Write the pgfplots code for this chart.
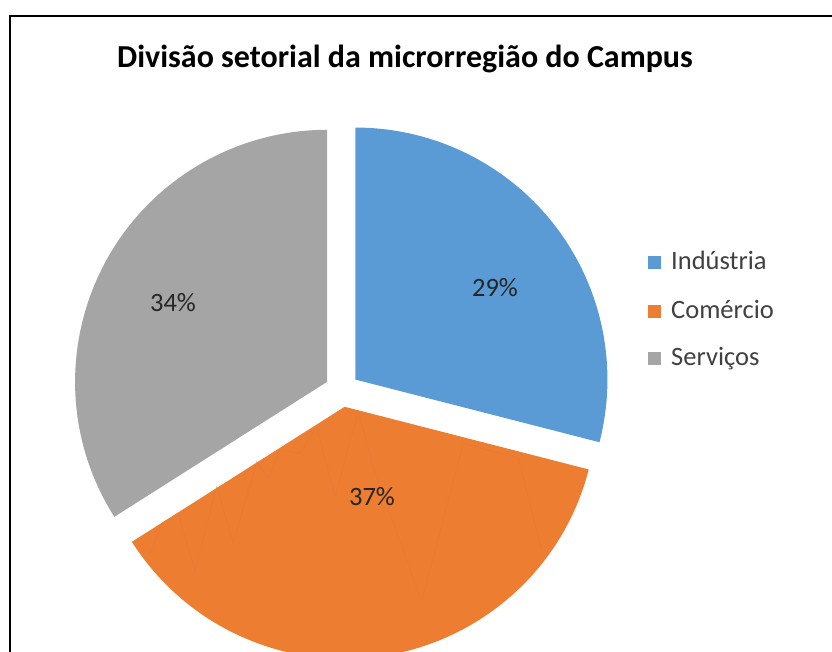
\documentclass[border=0pt]{standalone}
\usepackage{pgfplots}
\pgfplotsset{compat=1.18}
\usepackage{pgfplotstable}
\usepackage{fontspec}
\setmainfont{Carlito}
\definecolor{ind}{HTML}{5B9BD5}
\definecolor{com}{HTML}{ED7D31}
\definecolor{ser}{HTML}{A5A5A5}
\definecolor{zig}{HTML}{E27A36}
\definecolor{txt}{HTML}{262626}
\definecolor{legtxt}{HTML}{404040}

% slice data: value (%), label position (x, baseline y), legend baseline y
\pgfplotstableread{
label      value labx laby legy
Indústria  29    495  355  382
Comércio   37    372  146  333
Serviços   34    173  340  286
}\piedata

\pgfplotstablegetelem{0}{value}\of\piedata \edef\vA{\pgfplotsretval}
\pgfplotstablegetelem{1}{value}\of\piedata \edef\vB{\pgfplotsretval}
\pgfplotstablegetelem{2}{value}\of\piedata \edef\vC{\pgfplotsretval}
\pgfplotstablegetelem{0}{label}\of\piedata \edef\lA{\pgfplotsretval}
\pgfplotstablegetelem{1}{label}\of\piedata \edef\lB{\pgfplotsretval}
\pgfplotstablegetelem{2}{label}\of\piedata \edef\lC{\pgfplotsretval}
\pgfplotstablegetelem{0}{labx}\of\piedata \edef\xA{\pgfplotsretval}
\pgfplotstablegetelem{1}{labx}\of\piedata \edef\xB{\pgfplotsretval}
\pgfplotstablegetelem{2}{labx}\of\piedata \edef\xC{\pgfplotsretval}
\pgfplotstablegetelem{0}{laby}\of\piedata \edef\yA{\pgfplotsretval}
\pgfplotstablegetelem{1}{laby}\of\piedata \edef\yB{\pgfplotsretval}
\pgfplotstablegetelem{2}{laby}\of\piedata \edef\yC{\pgfplotsretval}
\pgfplotstablegetelem{0}{legy}\of\piedata \edef\gA{\pgfplotsretval}
\pgfplotstablegetelem{1}{legy}\of\piedata \edef\gB{\pgfplotsretval}
\pgfplotstablegetelem{2}{legy}\of\piedata \edef\gC{\pgfplotsretval}

\pgfmathsetmacro\sA{90}
\pgfmathsetmacro\eA{\sA-3.6*\vA}
\pgfmathsetmacro\mA{(\sA+\eA)/2}
\pgfmathsetmacro\sB{\eA}
\pgfmathsetmacro\eB{\sB-3.6*\vB}
\pgfmathsetmacro\mB{(\sB+\eB)/2}
\pgfmathsetmacro\sC{\eB}
\pgfmathsetmacro\eC{\sC-3.6*\vC}
\pgfmathsetmacro\mC{(\sC+\eC)/2}

\def\cx{342}\def\cy{262}\def\R{252pt}\def\D{17pt}

\begin{document}
\begin{tikzpicture}
\path[use as bounding box, clip] (0,0) rectangle (832pt,652pt);
\begin{axis}[
  at={(0,0)}, anchor=south west,
  x=1pt, y=1pt,
  xmin=0, xmax=832, ymin=0, ymax=652,
  axis lines=none, clip=false,
]
% slices
\fill[ind, shift={(\mA:\D)}] (axis cs:\cx,\cy) -- ++(\sA:\R) arc[start angle=\sA, end angle=\eA, radius=\R] -- cycle;
\fill[com, shift={(\mB:\D)}] (axis cs:\cx,\cy) -- ++(\sB:\R) arc[start angle=\sB, end angle=\eB, radius=\R] -- cycle;
\fill[ser, shift={(\mC:\D)}] (axis cs:\cx,\cy) -- ++(\sC:\R) arc[start angle=\sC, end angle=\eC, radius=\R] -- cycle;
% faint artefact lines inside the orange slice
\addplot[zig, line width=0.6pt, opacity=0.6] coordinates {
(150,98.7) (161.7,128.7) (178.3,138.7) (195,80.3) (216.7,165.3) (233.3,108.7)
(256.7,190.3) (268.3,173.7) (280,202) (300,198.7) (316.7,225.3) (335,155.3)
(358.3,240.3) (373.3,185.3) (421.7,50.3) (463.3,208.7) (518.3,193.7) (541.7,102)
};
% data labels
\node[txt, anchor=base, font=\fontsize{26.5}{30}\selectfont, inner sep=0pt] at (axis cs:\xA,\yA) {\vA\%};
\node[txt, anchor=base, font=\fontsize{26.5}{30}\selectfont, inner sep=0pt] at (axis cs:\xB,\yB) {\vB\%};
\node[txt, anchor=base, font=\fontsize{26.5}{30}\selectfont, inner sep=0pt] at (axis cs:\xC,\yC) {\vC\%};
% title
\node[black, anchor=base, font=\bfseries\fontsize{32}{36}\selectfont, inner sep=0pt] at (axis cs:405,584) {Divisão setorial da microrregião do Campus};
% legend
\fill[ind] (axis cs:648,\gA) ++(0,1pt) rectangle ++(13pt,13pt);
\fill[com] (axis cs:648,\gB) ++(0,1pt) rectangle ++(13pt,13pt);
\fill[ser] (axis cs:648,\gC) ++(0,1pt) rectangle ++(13pt,13pt);
\node[legtxt, anchor=base west, font=\fontsize{26.5}{30}\selectfont, inner sep=0pt] at (axis cs:671,\gA) {\lA};
\node[legtxt, anchor=base west, font=\fontsize{26.5}{30}\selectfont, inner sep=0pt] at (axis cs:671,\gB) {\lB};
\node[legtxt, anchor=base west, font=\fontsize{26.5}{30}\selectfont, inner sep=0pt] at (axis cs:671,\gC) {\lC};
% frame
\draw[black, line width=2.2pt] (axis cs:10,-20) -- (axis cs:10,636) -- (axis cs:850,636);
\end{axis}
\end{tikzpicture}
\end{document}
